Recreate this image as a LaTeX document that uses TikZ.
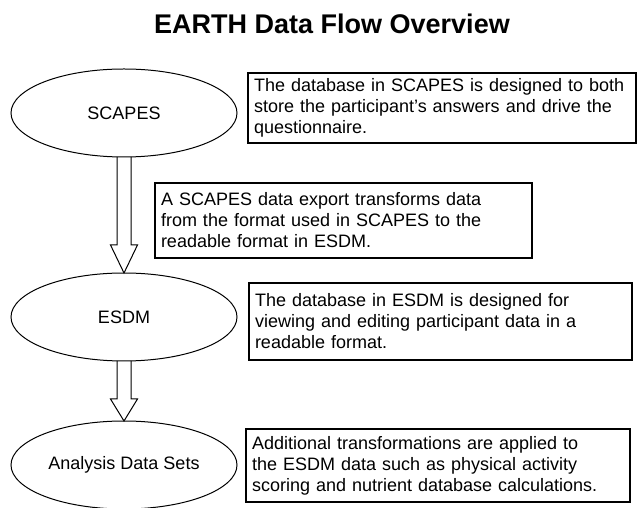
\documentclass[tikz,border=0pt]{standalone}
\usepackage{fontspec}
\setmainfont{Liberation Sans}
\usetikzlibrary{shapes.geometric,calc}
\begin{document}
\begin{tikzpicture}[x=1pt,y=1pt,
  stage/.style={draw,ellipse,line width=1pt,minimum width=226pt,minimum height=88pt,inner sep=0pt,outer sep=0pt,font=\fontsize{18}{21}\selectfont},
  note/.style={draw,rectangle,line width=1.2pt,align=left,inner xsep=6pt,inner ysep=0pt,font=\fontsize{18}{21}\selectfont},
  flow/.style={draw,line width=1pt}]
\useasboundingbox (0,0) rectangle (642,508);
\node[font=\fontsize{27}{30}\bfseries\selectfont] (title) at (332,484) {EARTH Data Flow Overview};
\node[stage] (scapes) at (124,395) {SCAPES};
\node[stage] (esdm) at (124,191) {ESDM};
\node[stage] (analysis) at (124,43) {Analysis Data Sets};
\node[note,text width=376pt,minimum height=70pt] (scapesnote) at (442,400)
{\mbox{The database in SCAPES is designed to both}\\store the participant's answers and drive the\\questionnaire.};
\node[note,text width=365pt,minimum height=75pt] (exportnote) at (343.5,287.5)
{A SCAPES data export transforms data\\from the format used in SCAPES to the\\readable format in ESDM.};
\node[note,text width=371pt,minimum height=77pt] (esdmnote) at (440.5,186.5)
{The database in ESDM is designed for\\viewing and editing participant data in a\\readable format.};
\node[note,text width=372pt,minimum height=73pt] (analysisnote) at (438,42.5)
{Additional transformations are applied to\\the ESDM data such as physical activity\\scoring and nutrient database calculations.};
\draw[flow] ($(scapes.south)+(-7,0)$) -- ($(esdm.north)+(-7,28)$) -- ($(esdm.north)+(-13.5,28)$)
  -- (esdm.north) -- ($(esdm.north)+(13.5,28)$) -- ($(esdm.north)+(7,28)$) -- ($(scapes.south)+(7,0)$);
\draw[flow] ($(esdm.south)+(-7,0)$) -- ($(analysis.north)+(-7,22)$) -- ($(analysis.north)+(-13.5,22)$)
  -- (analysis.north) -- ($(analysis.north)+(13.5,22)$) -- ($(analysis.north)+(7,22)$) -- ($(esdm.south)+(7,0)$);
\end{tikzpicture}
\end{document}
